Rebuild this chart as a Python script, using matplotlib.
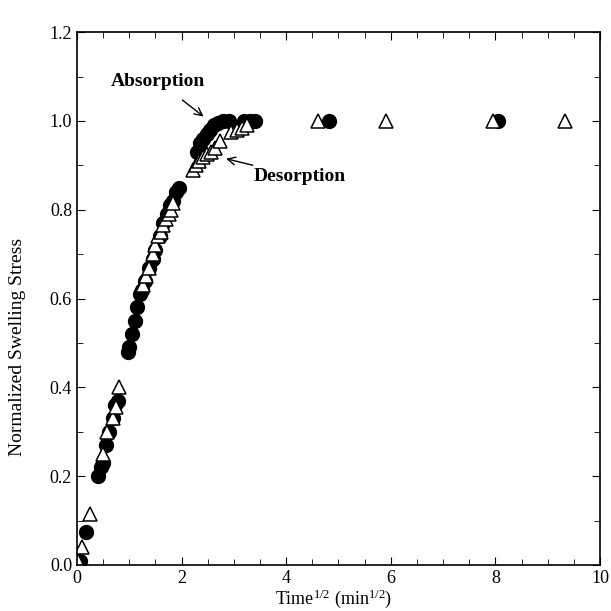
import numpy as np
import matplotlib
matplotlib.use("Agg")
import matplotlib.pyplot as plt
from matplotlib.ticker import MultipleLocator

# Absorption (filled circles)
abs_x = [0.0, 0.02, 0.05, 0.17, 0.40, 0.45, 0.50, 0.55, 0.62, 0.68, 0.73, 0.78,
         0.97, 1.00, 1.05, 1.10, 1.15, 1.20, 1.25, 1.30, 1.38, 1.45, 1.50, 1.58,
         1.65, 1.72, 1.78, 1.84, 1.90, 1.95,
         2.30, 2.35, 2.40, 2.48, 2.55, 2.62, 2.70, 2.80, 2.90, 3.20, 3.30, 3.40,
         4.82, 8.05]
abs_y = [0.0, 0.005, 0.01, 0.075, 0.20, 0.22, 0.23, 0.27, 0.30, 0.33, 0.36, 0.37,
         0.48, 0.49, 0.52, 0.55, 0.58, 0.61, 0.62, 0.64, 0.67, 0.69, 0.71, 0.74,
         0.77, 0.79, 0.81, 0.82, 0.84, 0.85,
         0.93, 0.95, 0.96, 0.97, 0.98, 0.99, 0.995, 1.0, 1.0, 1.0, 1.0, 1.0,
         1.0, 1.0]

# Desorption (open triangles)
des_x = [0.0, 0.02, 0.10, 0.25, 0.50, 0.58, 0.68, 0.75, 0.80,
         1.26, 1.32, 1.38, 1.45, 1.50, 1.55, 1.60, 1.65, 1.70, 1.75, 1.80, 1.84,
         2.22, 2.28, 2.34, 2.40, 2.48, 2.56, 2.64, 2.73, 2.95, 3.05, 3.15, 3.25,
         4.60, 5.90, 7.95, 9.33]
des_y = [0.0, 0.01, 0.04, 0.115, 0.25, 0.30, 0.33, 0.355, 0.40,
         0.63, 0.65, 0.67, 0.70, 0.72, 0.74, 0.75, 0.765, 0.78, 0.79, 0.80, 0.815,
         0.89, 0.90, 0.91, 0.92, 0.925, 0.93, 0.94, 0.955, 0.975, 0.98, 0.985, 0.99,
         1.0, 1.0, 1.0, 1.0]

plt.rcParams['font.family'] = ['Liberation Serif', 'DejaVu Serif']
plt.rcParams['mathtext.fontset'] = 'custom'
plt.rcParams['mathtext.rm'] = 'Liberation Serif'
plt.rcParams['mathtext.it'] = 'Liberation Serif:italic'

fig = plt.figure(figsize=(6.11, 6.11), dpi=100)
ax = fig.add_axes([0.126, 0.0753, 0.856, 0.872])

ax.plot(abs_x, abs_y, 'o', color='black', markersize=10, linestyle='none')
ax.plot(des_x, des_y, '^', markerfacecolor='white', markeredgecolor='black',
        markeredgewidth=1.1, markersize=10, linestyle='none')

ax.set_xlim(0, 10)
ax.set_ylim(0, 1.2)
ax.xaxis.set_major_locator(MultipleLocator(2))
ax.xaxis.set_minor_locator(MultipleLocator(0.5))
ax.yaxis.set_major_locator(MultipleLocator(0.2))
ax.yaxis.set_minor_locator(MultipleLocator(0.1))
ax.yaxis.set_major_formatter(plt.FormatStrFormatter('%.1f'))
ax.tick_params(which='both', direction='in', top=True, right=True, labelsize=13)
ax.tick_params(which='major', length=6)
ax.tick_params(which='minor', length=4)
for s in ax.spines.values():
    s.set_linewidth(1.2)

ax.set_xlabel(r'Time$^{\mathrm{1/2}}$ (min$^{\mathrm{1/2}}$)', fontsize=13)
ax.set_ylabel('Normalized Swelling Stress', fontsize=14)
ax.xaxis.set_label_coords(0.49, -0.042)
ax.yaxis.set_label_coords(-0.097, 0.41)

ax.annotate('Absorption', xy=(2.42, 1.01), xytext=(1.55, 1.09),
            fontsize=14, fontweight='bold', ha='center', va='center',
            arrowprops=dict(arrowstyle='->', color='black', lw=1,
                            shrinkA=9, shrinkB=0))
ax.annotate('Desorption', xy=(2.85, 0.915), xytext=(4.25, 0.875),
            fontsize=14, fontweight='bold', ha='center', va='center',
            arrowprops=dict(arrowstyle='->', color='black', lw=1,
                            shrinkA=35, shrinkB=0))

fig.savefig('out.png', dpi=100)
